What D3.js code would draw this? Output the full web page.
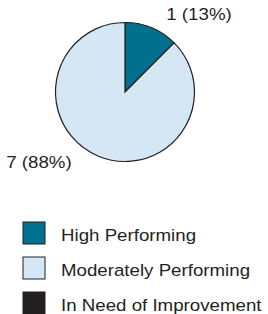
<!DOCTYPE html>
<html>
<head>
<meta charset="utf-8">
<script src="https://cdn.jsdelivr.net/npm/d3@7"></script>
<style>
  body { margin: 0; background: #fff; }
  text { font-family: "Liberation Sans", Arial, sans-serif; fill: #231f20; }
</style>
</head>
<body>
<div id="chart"></div>
<script>
const categories = ["High Performing", "Moderately Performing", "In Need of Improvement"];
const counts = [1, 7, 0];
const colors = ["#00708f", "#d5e7f5", "#231f20"];

const width = 268, height = 314;
const cx = 125, cy = 92, radius = 69.5;

const svg = d3.select("#chart")
  .append("svg")
  .attr("width", width)
  .attr("height", height);

const color = d3.scaleOrdinal().domain(categories).range(colors);

const total = d3.sum(counts);
const pie = d3.pie().sort(null).value(d => d.value);
const data = categories.map((c, i) => ({ name: c, value: counts[i] }));
const arcs = pie(data).filter(d => d.value > 0);

const arc = d3.arc().innerRadius(0).outerRadius(radius);

const g = svg.append("g").attr("transform", `translate(${cx},${cy})`);

g.selectAll("path")
  .data(arcs)
  .join("path")
  .attr("d", arc)
  .attr("fill", d => color(d.data.name))
  .attr("stroke", "#231f20")
  .attr("stroke-width", 1.2);

// labels sit a bit past the rim, rotated slightly clockwise
const labelR = 88, labelTurn = 10 * Math.PI / 180;
g.selectAll("g.label")
  .data(arcs)
  .join("g")
  .attr("class", "label")
  .attr("transform", d => {
    const a = (d.startAngle + d.endAngle) / 2 + labelTurn;
    return `translate(${Math.sin(a) * labelR - 6},${-Math.cos(a) * labelR + 2}) scale(1.1,1)`;
  })
  .append("text")
  .attr("font-size", 17)
  .attr("text-anchor", d => Math.sin((d.startAngle + d.endAngle) / 2) >= 0 ? "start" : "end")
  .text(d => `${d.value} (${Math.round(d.value / total * 100)}%)`);

// Legend
const legend = svg.append("g").attr("transform", "translate(23,222)");
const row = d3.scaleBand().domain(categories).range([0, 105]);

const item = legend.selectAll("g")
  .data(categories)
  .join("g")
  .attr("transform", d => `translate(0,${row(d)})`);

item.append("rect")
  .attr("width", 22)
  .attr("height", 22)
  .attr("fill", d => color(d))
  .attr("stroke", "#231f20")
  .attr("stroke-width", 1);

item.append("g")
  .attr("transform", "translate(38,19) scale(1.1,1)")
  .append("text")
  .attr("font-size", 17)
  .text(d => d);
</script>
</body>
</html>
